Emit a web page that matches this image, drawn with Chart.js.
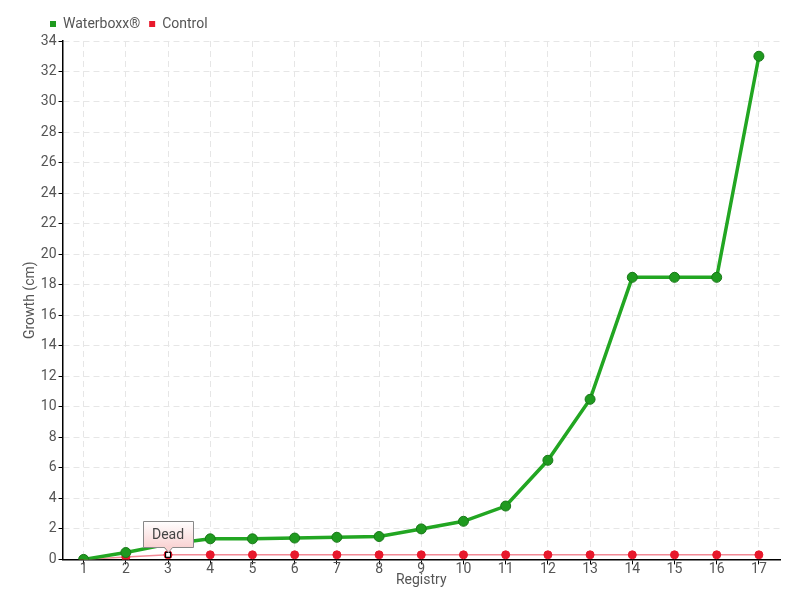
<!DOCTYPE html>
<html>
<head>
<meta charset="utf-8">
<script src="https://cdn.jsdelivr.net/npm/chart.js@4.4.0/dist/chart.umd.min.js"></script>
<style>
  html, body { margin: 0; padding: 0; background: #fff; }
  #wrap { width: 800px; height: 600px; }
</style>
</head>
<body>
<div id="wrap"><canvas id="chart" width="800" height="600"></canvas></div>
<script>
// valores
const registries = ['1','2','3','4','5','6','7','8','9','10','11','12','13','14','15','16','17'];
const waterboxx = [0, 0.45, 1.0, 1.35, 1.35, 1.4, 1.45, 1.5, 2.0, 2.5, 3.5, 6.5, 10.5, 18.5, 18.5, 18.5, 33];
const control = [0, 0.15, 0.3, 0.3, 0.3, 0.3, 0.3, 0.3, 0.3, 0.3, 0.3, 0.3, 0.3, 0.3, 0.3, 0.3, 0.3];
const deadIndex = 2;
const deadLabel = 'Dead';

const fontFamily = "Roboto, 'Liberation Sans', sans-serif";
const textColor = '#555';

// caixa "Dead" sobre o ponto do controle
const deadNote = {
  id: 'deadNote',
  afterLayout(chart) {
    // legenda um pouco para a direita, como no original
    chart.legend.left += 19;
  },
  afterDatasetsDraw(chart) {
    const ctx = chart.ctx;
    const pt = chart.getDatasetMeta(1).data[deadIndex];
    if (!pt) return;
    // marcador quadrado branco
    ctx.save();
    ctx.fillStyle = '#fff';
    ctx.strokeStyle = '#000';
    ctx.lineWidth = 1.2;
    ctx.fillRect(pt.x - 2.5, pt.y - 2.5, 5, 5);
    ctx.strokeRect(pt.x - 2.5, pt.y - 2.5, 5, 5);

    const w = 50, h = 26;
    const x = Math.round(pt.x - 25), y = Math.round(pt.y - 34);
    const g = ctx.createLinearGradient(0, y, 0, y + h);
    g.addColorStop(0, '#ffffff');
    g.addColorStop(1, '#f9d3d3');
    ctx.fillStyle = g;
    ctx.strokeStyle = '#888';
    ctx.lineWidth = 1;
    const px = Math.round(pt.x);
    ctx.beginPath();
    ctx.moveTo(x + 0.5, y + 0.5);
    ctx.lineTo(x + w + 0.5, y + 0.5);
    ctx.lineTo(x + w + 0.5, y + h + 0.5);
    ctx.lineTo(px + 4.5, y + h + 0.5);
    ctx.lineTo(px + 0.5, y + h + 5.5);
    ctx.lineTo(px - 3.5, y + h + 0.5);
    ctx.lineTo(x + 0.5, y + h + 0.5);
    ctx.closePath();
    ctx.fill();
    ctx.stroke();
    ctx.fillStyle = '#444';
    ctx.font = '14px ' + fontFamily;
    ctx.textAlign = 'center';
    ctx.textBaseline = 'middle';
    ctx.fillText(deadLabel, x + w / 2, y + h / 2 + 1);
    ctx.restore();
  }
};

const ctx = document.getElementById('chart').getContext('2d');
new Chart(ctx, {
  type: 'line',
  data: {
    labels: registries,
    datasets: [
      {
        label: 'Waterboxx®',
        data: waterboxx,
        borderColor: '#22a622',
        backgroundColor: '#1f9a1f',
        pointBorderColor: '#187818',
        borderWidth: 3.5,
        pointRadius: 5,
        pointBorderWidth: 1,
        tension: 0
      },
      {
        label: 'Control',
        data: control,
        borderColor: '#f28a96',
        backgroundColor: '#e8192c',
        pointBackgroundColor: '#e8192c',
        pointBorderColor: '#e8192c',
        borderWidth: 1.5,
        pointRadius: 4,
        pointBorderWidth: 1,
        tension: 0
      }
    ]
  },
  options: {
    responsive: false,
    animation: false,
    layout: { padding: { left: 22, right: 20, top: 8, bottom: 11 } },
    plugins: {
      tooltip: { enabled: false },
      legend: {
        position: 'top',
        align: 'start',
        labels: {
          boxWidth: 6,
          boxHeight: 6,
          padding: 9,
          color: textColor,
          font: { family: fontFamily, size: 14 },
          generateLabels(chart) {
            return chart.data.datasets.map((ds, i) => ({
              text: ds.label,
              fillStyle: ds.backgroundColor,
              strokeStyle: ds.backgroundColor,
              lineWidth: 0,
              fontColor: textColor,
              datasetIndex: i
            }));
          }
        }
      }
    },
    scales: {
      x: {
        offset: true,
        grid: {
          offset: false,
          color: '#e6e6e6',
          tickColor: '#000',
          tickLength: 5
        },
        border: { color: '#000', width: 1.5, dash: [6, 4] },
        ticks: { color: textColor, font: { family: fontFamily, size: 14 }, padding: -3, maxRotation: 0 },
        title: { display: true, text: 'Registry', color: textColor, font: { family: fontFamily, size: 14 }, padding: { top: -3, bottom: 0 } }
      },
      y: {
        min: 0,
        max: 34,
        grid: {
          color: '#e6e6e6',
          tickColor: '#000',
          tickLength: 4
        },
        border: { color: '#000', width: 1.5, dash: [6, 4] },
        ticks: { stepSize: 2, color: textColor, font: { family: fontFamily, size: 14 }, padding: 2 },
        title: { display: true, text: 'Growth (cm)', color: textColor, font: { family: fontFamily, size: 14 }, padding: 0 }
      }
    }
  },
  plugins: [deadNote]
});
</script>
</body>
</html>
